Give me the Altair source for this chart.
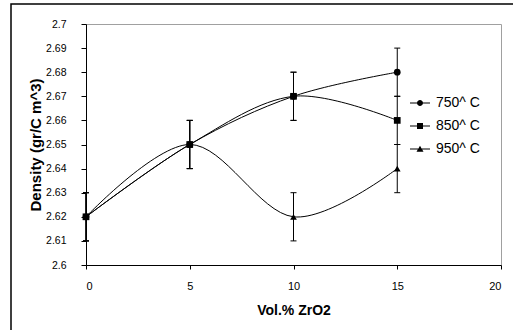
import altair as alt
import pandas as pd

# ---- data ----
vol = [0, 5, 10, 15]
series_names = ["750^ C", "850^ C", "950^ C"]
dens_750 = [2.62, 2.65, 2.67, 2.68]
dens_850 = [2.62, 2.65, 2.67, 2.66]
dens_950 = [2.62, 2.65, 2.62, 2.64]
err = [0.01, 0.01, 0.01, 0.01]
y_ticks = [2.60, 2.61, 2.62, 2.63, 2.64, 2.65, 2.66, 2.67, 2.68, 2.69, 2.70]
x_ticks = [0, 5, 10, 15, 20]

rows = []
for name, vals in zip(series_names, [dens_750, dens_850, dens_950]):
    for x, y, e in zip(vol, vals, err):
        rows.append({"vol": x, "dens": y, "lo": round(y - e, 3), "hi": round(y + e, 3), "series": name})
df = pd.DataFrame(rows)

FONT = "Liberation Sans"
W, H = 415, 241

x_scale = alt.Scale(domain=[0, 20], nice=False)
x_axis = alt.Axis(values=x_ticks, title="Vol.% ZrO2", grid=False,
                  tickSize=4, labelPadding=11, labelFontSize=11, labelOverlap=False,
                  titleFontSize=14, titleFontWeight="bold",
                  titleX=W / 2, titleY=45, titleBaseline="middle", titleAnchor="middle")
y_scale = alt.Scale(domain=[2.6, 2.7], nice=False, zero=False)
y_axis = alt.Axis(values=y_ticks, format="~g", title="Density (gr/C m^3)",
                  grid=False, tickSize=5, labelPadding=15, labelFontSize=10.5,
                  labelOverlap=False,
                  titleFontSize=15, titleFontWeight="bold",
                  titleX=-51, titleY=H / 2, titleAngle=-90,
                  titleAlign="center", titleBaseline="middle")


def X(field):
    return alt.X(field, scale=x_scale, axis=x_axis)


def Y(field):
    return alt.Y(field, scale=y_scale, axis=y_axis)


base = alt.Chart(df)

frame = alt.Chart(pd.DataFrame({"f": [0]})).mark_rect(
    fill=None, stroke="black", strokeWidth=1.5
).encode(x=alt.value(-75), x2=alt.value(440), y=alt.value(-20), y2=alt.value(320))

lines = base.mark_line(interpolate="cardinal", color="black", strokeWidth=1).encode(
    x=X("vol:Q"), y=Y("dens:Q"), detail="series:N"
)

bars = base.mark_rule(color="black", strokeWidth=1).encode(
    x=X("vol:Q"), y=Y("lo:Q"), y2="hi:Q"
)
cap_lo = base.mark_rule(color="black", strokeWidth=1, xOffset=-3, x2Offset=3).encode(
    x=X("vol:Q"), x2="vol:Q", y=Y("lo:Q")
)
cap_hi = base.mark_rule(color="black", strokeWidth=1, xOffset=-3, x2Offset=3).encode(
    x=X("vol:Q"), x2="vol:Q", y=Y("hi:Q")
)

points = base.mark_point(filled=True, color="black", size=45, opacity=1).encode(
    x=X("vol:Q"), y=Y("dens:Q"),
    shape=alt.Shape("series:N",
                    scale=alt.Scale(domain=series_names,
                                    range=["circle", "square", "triangle-up"]),
                    legend=None)
)


def bars_path(gap):
    return (f"M-1,-0.055L-{gap},-0.055L-{gap},0.055L-1,0.055Z"
            f"M{gap},-0.055L1,-0.055L1,0.055L{gap},0.055Z")


legend_shapes = [
    bars_path(0.28) + "M0.3,0A0.3,0.3,0,1,1,-0.3,0A0.3,0.3,0,1,1,0.3,0Z",
    bars_path(0.28) + "M-0.3,-0.3L0.3,-0.3L0.3,0.3L-0.3,0.3Z",
    bars_path(0.18) + "M0,-0.33L0.35,0.27L-0.35,0.27Z",
]
legend_layer = base.transform_filter("false").mark_point(
    filled=True, color="black", opacity=1
).encode(
    x=X("vol:Q"), y=Y("dens:Q"),
    shape=alt.Shape("series:N",
                    scale=alt.Scale(domain=series_names, range=legend_shapes),
                    legend=alt.Legend(title=None, orient="none", legendX=324, legendY=69,
                                      padding=0, symbolSize=400, symbolStrokeWidth=0,
                                      symbolFillColor="black",
                                      labelFont=FONT, labelFontSize=14, labelColor="black",
                                      labelOffset=6, rowPadding=6))
)

chart = alt.layer(frame, lines, bars, cap_lo, cap_hi, points, legend_layer).resolve_scale(
    shape="independent"
).properties(
    width=W, height=H,
    autosize=alt.AutoSizeParams(type="none"),
    padding={"left": 86, "top": 24, "right": 12, "bottom": 65},
    background="white",
).configure_view(
    stroke="#a0a0a0", strokeWidth=1
).configure_axis(
    labelFont=FONT, titleFont=FONT, labelColor="black", titleColor="black",
    domainColor="black", tickColor="black", domainWidth=1, tickWidth=1
)

chart.save("out.html", embed_options={"renderer": "svg", "actions": False})
